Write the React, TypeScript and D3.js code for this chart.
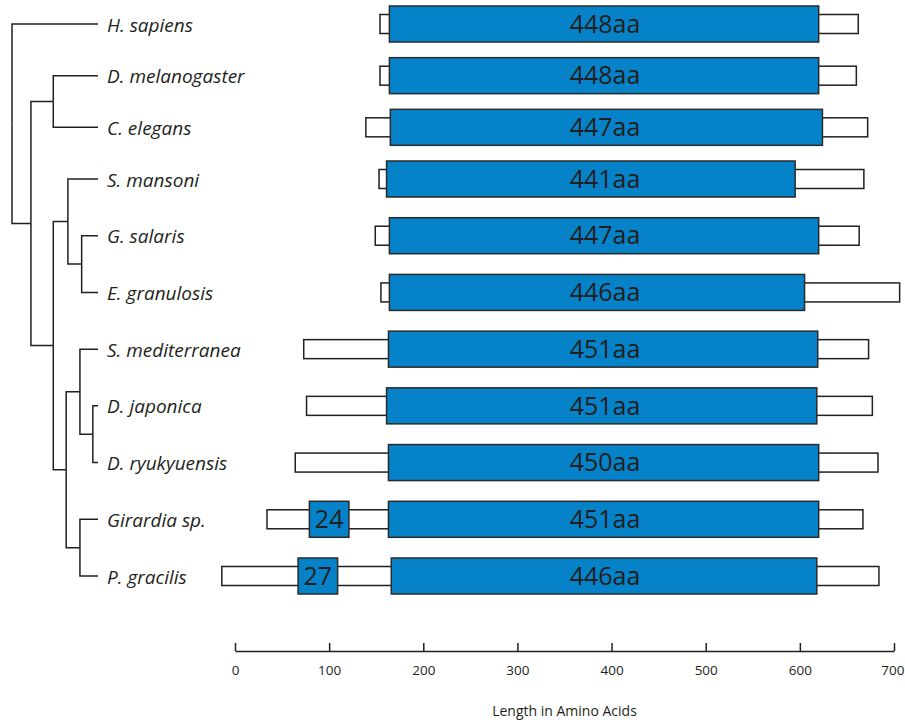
import React, { useEffect, useRef } from 'react';
import * as d3 from 'd3';

// species, top to bottom
const species = [
  'H. sapiens',
  'D. melanogaster',
  'C. elegans',
  'S. mansoni',
  'G. salaris',
  'E. granulosis',
  'S. mediterranea',
  'D. japonica',
  'D. ryukyuensis',
  'Girardia sp.',
  'P. gracilis',
];

// domain length labels (aa)
const domainLengths = [448, 448, 447, 441, 447, 446, 451, 451, 450, 451, 446];

// whole protein (white box), in amino acids
const proteinStart = [154, 154, 139, 153, 149, 155, 73, 76, 64, 34, -14];
const proteinEnd = [662, 660, 672, 668, 663, 706, 673, 677, 683, 667, 684];

// main domain (blue box)
const domainStart = [164, 164, 165, 161, 164, 164, 163, 161, 163, 163, 166];
const domainEnd = [620, 620, 624, 595, 620, 605, 619, 618, 620, 620, 618];

// small extra domains
const extraRows = [9, 10];
const extraStart = [79, 67];
const extraEnd = [121, 109];
const extraLabels = ['24', '27'];

const axisTicks = [0, 100, 200, 300, 400, 500, 600, 700];

// tree, d = relative branch depth of the node
const tree = {
  d: 0,
  children: [
    { name: 'H. sapiens' },
    {
      d: 0.22,
      children: [
        { d: 0.48, children: [{ name: 'D. melanogaster' }, { name: 'C. elegans' }] },
        {
          d: 0.48,
          children: [
            {
              d: 0.65,
              children: [
                { name: 'S. mansoni' },
                { d: 0.81, children: [{ name: 'G. salaris' }, { name: 'E. granulosis' }] },
              ],
            },
            {
              d: 0.63,
              children: [
                {
                  d: 0.79,
                  children: [
                    { name: 'S. mediterranea' },
                    { d: 0.94, children: [{ name: 'D. japonica' }, { name: 'D. ryukyuensis' }] },
                  ],
                },
                { d: 0.79, children: [{ name: 'Girardia sp.' }, { name: 'P. gracilis' }] },
              ],
            },
          ],
        },
      ],
    },
  ],
};

const W = 905;
const H = 720;
const BLUE = '#0682c8';
const INK = '#231f20';
const FONT = "'Open Sans', 'Noto Sans', sans-serif";

const x = d3.scaleLinear().domain([0, 700]).range([235, 894]);
const y = d3.scaleLinear().domain([0, 3, 10]).range([24, 179, 576]);
const treeX = d3.scaleLinear().domain([0, 1]).range([12, 98]);
const labelAt = 393;

const App = () => {
  const axisRef = useRef<SVGGElement>(null);

  useEffect(() => {
    const g = d3.select(axisRef.current);
    g.selectAll('*').remove();
    g.call(
      d3
        .axisBottom(x)
        .tickValues(axisTicks)
        .tickSizeInner(-8)
        .tickSizeOuter(0)
        .tickPadding(14)
    );
    g.attr('font-family', FONT).attr('font-size', 13.5);
    g.selectAll('path, line').attr('stroke', INK).attr('stroke-width', 1.5);
    g.selectAll('text').attr('fill', INK);
    // keep the last label inside the picture
    g.select('.tick:last-of-type text').attr('text-anchor', 'end').attr('dx', 10);
  }, []);

  // lay out the tree
  const root = d3.hierarchy<any>(tree);
  root.eachAfter((n: any) => {
    if (!n.children) {
      n.py = y(species.indexOf(n.data.name));
      n.px = treeX(1);
    } else {
      n.py = (n.children[0].py + n.children[n.children.length - 1].py) / 2;
      n.px = treeX(n.data.d);
    }
  });

  return (
    <div style={{ position: 'absolute', left: 0, top: 0 }}>
      <svg width={W} height={H} style={{ display: 'block', background: '#fff' }}>
        {/* tree */}
        <g fill="none" stroke={INK} strokeWidth={1.5}>
          {root.links().map((l: any, i) => (
            <path
              key={i}
              d={`M${l.source.px},${l.source.py}V${l.target.py}H${l.target.px}`}
            />
          ))}
        </g>

        {/* species names */}
        <g fontFamily={FONT} fontStyle="italic" fontSize={19} fill={INK}>
          {species.map((s, i) => (
            <text key={s} x={treeX(1) + 9} y={y(i)} dy="0.4em">
              {s}
            </text>
          ))}
        </g>

        {/* proteins */}
        {species.map((s, i) => (
          <g key={s}>
            <rect
              x={x(proteinStart[i])}
              y={y(i) - 9.5}
              width={x(proteinEnd[i]) - x(proteinStart[i])}
              height={19}
              fill="#fff"
              stroke={INK}
              strokeWidth={1.5}
            />
            <rect
              x={x(domainStart[i])}
              y={y(i) - 18}
              width={x(domainEnd[i]) - x(domainStart[i])}
              height={36}
              fill={BLUE}
              stroke="#2a2a2a"
              strokeWidth={1.5}
            />
            <text
              x={x(labelAt)}
              y={y(i)}
              dy="0.35em"
              textAnchor="middle"
              fontFamily={FONT}
              fontSize={25}
              fill={INK}
            >
              {domainLengths[i] + 'aa'}
            </text>
          </g>
        ))}

        {extraRows.map((r, k) => (
          <g key={'e' + k}>
            <rect
              x={x(extraStart[k])}
              y={y(r) - 18}
              width={x(extraEnd[k]) - x(extraStart[k])}
              height={36}
              fill={BLUE}
              stroke="#2a2a2a"
              strokeWidth={1.5}
            />
            <text
              x={(x(extraStart[k]) + x(extraEnd[k])) / 2}
              y={y(r)}
              dy="0.35em"
              textAnchor="middle"
              fontFamily={FONT}
              fontSize={25}
              fill={INK}
            >
              {extraLabels[k]}
            </text>
          </g>
        ))}

        {/* axis */}
        <g ref={axisRef} transform="translate(0,651)" />
        <text
          x={(x(0) + x(700)) / 2}
          y={716}
          textAnchor="middle"
          fontFamily={FONT}
          fontSize={14}
          fill={INK}
        >
          Length in Amino Acids
        </text>
      </svg>
    </div>
  );
};

export default App;
